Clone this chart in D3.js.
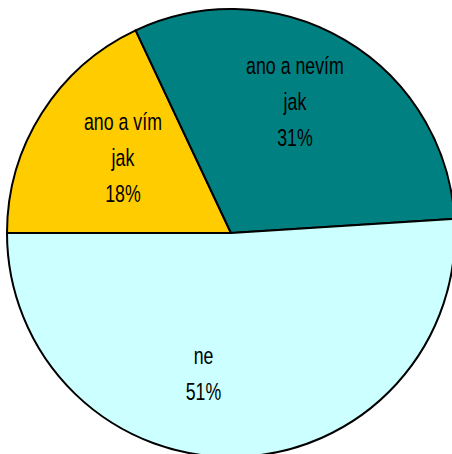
<!DOCTYPE html>
<html>
<head>
<meta charset="utf-8">
<script src="https://cdn.jsdelivr.net/npm/d3@7"></script>
<style>
  body { margin: 0; background: #fff; }
  svg { display: block; }
</style>
</head>
<body>
<script>
// chart data
var labels = ["ano a vím", "ano a nevím", "ne"];
var subLabels = ["jak", "jak", ""];
var values = [18, 31, 51];
var colors = ["#FFCC00", "#008080", "#CCFFFF"];

const w = 452, h = 454;
const cx = 231, cy = 233, r = 224;

var svg = d3.select("body").append("svg")
    .attr("width", w)
    .attr("height", h);

var rows = labels.map((l, i) => ({ label: l, sub: subLabels[i], value: values[i], color: colors[i] }));

// starts at 9 o'clock, goes clockwise
var pie = d3.pie()
    .value(d => d.value)
    .sort(null)
    .startAngle(-Math.PI / 2)
    .endAngle(3 * Math.PI / 2);

var arc = d3.arc().innerRadius(0).outerRadius(r);
var labelArc = d3.arc().innerRadius(0).outerRadius(r * 1.28);

var g = svg.append("g").attr("transform", "translate(" + cx + "," + cy + ")");

var arcs = pie(rows);

g.selectAll("path.slice")
    .data(arcs)
    .enter()
    .append("path")
    .attr("class", "slice")
    .attr("d", arc)
    .attr("fill", d => d.data.color)
    .attr("stroke", "#000")
    .attr("stroke-width", 2)
    .attr("stroke-linejoin", "round");

// small nudges so labels sit where excel put them
var nudge = [[13, 3], [-9, -7], [-32, -1]];

var lab = g.selectAll("g.lab")
    .data(arcs)
    .enter()
    .append("g")
    .attr("class", "lab")
    .attr("transform", (d, i) => {
        let c = labelArc.centroid(d);
        return "translate(" + (c[0] + nudge[i][0]) + "," + (c[1] + nudge[i][1]) + ") scale(0.74,1)";
    });

lab.each(function (d) {
    let lines = [d.data.label];
    if (d.data.sub) lines.push(d.data.sub);
    lines.push(d.data.value + "%");
    let n = lines.length;
    d3.select(this).selectAll("text")
        .data(lines)
        .enter()
        .append("text")
        .attr("text-anchor", "middle")
        .attr("y", (t, k) => (k - (n - 1) / 2) * 36 + 7)
        .style("font-family", "'Liberation Sans', Arial, sans-serif")
        .style("font-size", "24px")
        .attr("fill", "#000")
        .text(t => t);
});
</script>
</body>
</html>
